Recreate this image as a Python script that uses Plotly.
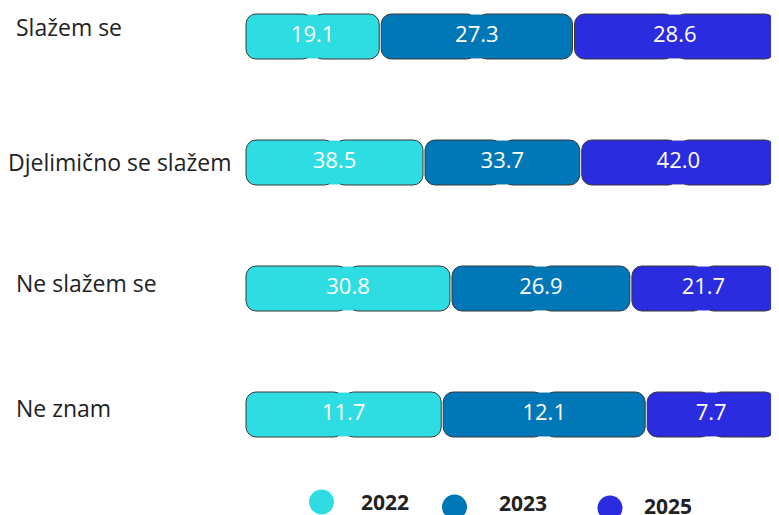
import plotly.graph_objects as go

categories = ["Slažem se", "Djelimično se slažem", "Ne slažem se", "Ne znam"]
years = ["2022", "2023", "2025"]
values_2022 = [19.1, 38.5, 30.8, 11.7]
values_2023 = [27.3, 33.7, 26.9, 12.1]
values_2025 = [28.6, 42.0, 21.7, 7.7]
colors = ["#2EDDE2", "#0077B6", "#2B2BE0"]

series = [values_2022, values_2023, values_2025]

# the page puts the figure 8px in from the top-left corner
OFF = 8
W, H = 779 - OFF, 515 - OFF
ML, MR, MT, MB = 245 - OFF, 3, 0, 45
PW = W - ML - MR
PH = H - MT - MB
FONT = "Open Sans"
ROW_PX = 126
BAR_W = 45 / ROW_PX
GAP = 0.19  # half-gap between segments, in percent units
LINE = "#383838"
first_center = 36.5 - OFF
y_top = -first_center / ROW_PX
y_bot = (PH - first_center) / ROW_PX


def px_to_paper_x(px):
    return (px - OFF - ML) / PW


def px_to_paper_y(py):
    return (H - MB - (py - OFF)) / PH


fig = go.Figure()

# per-row totals to normalise each row to 100 %
totals = [sum(s[i] for s in series) for i in range(len(categories))]

for k, (vals, col) in enumerate(zip(series, colors)):
    starts, ends = [], []
    for i in range(len(categories)):
        before = sum(series[j][i] for j in range(k))
        s = before / totals[i] * 100
        e = (before + vals[i]) / totals[i] * 100
        starts.append(s + GAP)
        ends.append(e - GAP)
    mids = [(s + e) / 2 for s, e in zip(starts, ends)]
    halves = [(e - s) / 2 for s, e in zip(starts, ends)]
    common = dict(y=categories, orientation="h", width=BAR_W, showlegend=False,
                  hoverinfo="skip")
    # right half (rounded right end)
    fig.add_trace(go.Bar(x=halves, base=mids, marker=dict(color=col, cornerradius=10,
                         line=dict(color=LINE, width=1)), **common))
    # left half (rounded left end)
    fig.add_trace(go.Bar(x=[-h for h in halves], base=mids,
                         marker=dict(color=col, cornerradius=10,
                                     line=dict(color=LINE, width=1)), **common))
    # cover the seam in the middle
    cov = dict(common)
    cov["width"] = BAR_W - 1.1 / ROW_PX
    fig.add_trace(go.Bar(x=[2.0] * len(categories), base=[m - 1.0 for m in mids],
                         marker=dict(color=col, cornerradius=0, line=dict(width=0)),
                         **cov))
    # value labels
    fig.add_trace(go.Scatter(x=mids, y=categories, mode="text",
                             text=[f"{v:.1f}" for v in vals],
                             textfont=dict(color="white", size=22, family=FONT),
                             showlegend=False, hoverinfo="skip"))

annotations = []
label_x = [14, 6, 14, 14]
label_shift = [9.5, 0.5, 5.5, 6.5]
for cat, lx, sh in zip(categories, label_x, label_shift):
    annotations.append(dict(x=px_to_paper_x(lx), xref="paper", y=cat, yref="y",
                            text=cat, showarrow=False, xanchor="left", yanchor="middle",
                            yshift=sh, font=dict(size=23, color="#222222", family=FONT)))

shapes = []
legend_items = [(321.5, 502, 385, 502), (454.5, 507, 523, 503), (610, 508, 668, 506)]
for (cx, cy, tx, ty), col, yr in zip(legend_items, colors, years):
    shapes.append(dict(type="circle", xref="paper", yref="paper",
                       x0=px_to_paper_x(cx - 12.5), x1=px_to_paper_x(cx + 12.5),
                       y0=px_to_paper_y(cy + 12.5), y1=px_to_paper_y(cy - 12.5),
                       fillcolor=col, line=dict(width=0)))
    annotations.append(dict(x=px_to_paper_x(tx), xref="paper", y=px_to_paper_y(ty),
                            yref="paper", text=f"<b>{yr}</b>", showarrow=False,
                            xanchor="center", yanchor="middle",
                            font=dict(size=21, color="#222222", family=FONT)))

fig.update_layout(
    width=W, height=H,
    margin=dict(l=ML, r=MR, t=MT, b=MB),
    barmode="overlay",
    plot_bgcolor="white", paper_bgcolor="white",
    xaxis=dict(range=[0, 100], visible=False, fixedrange=True),
    yaxis=dict(range=[y_bot, y_top], visible=False, type="category",
               categoryorder="array", categoryarray=categories),
    annotations=annotations,
    shapes=shapes,
    font=dict(family=FONT),
)

fig.write_html("out.html")
